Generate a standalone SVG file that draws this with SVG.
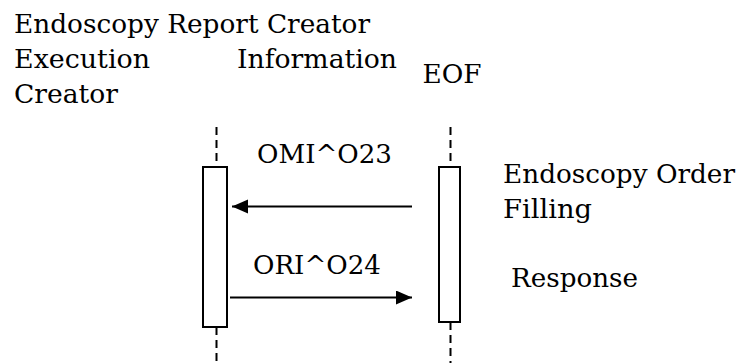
<svg xmlns="http://www.w3.org/2000/svg" width="741" height="363" viewBox="0 0 741 363">
  <style>
    text { font-family: "DejaVu Serif", "Liberation Serif", serif; font-size: 26px; fill: #000; }
    .life { stroke: #000; stroke-width: 2; stroke-dasharray: 8 5; fill: none; }
    .act { fill: #fff; stroke: #000; stroke-width: 2; }
    .msg { stroke: #000; stroke-width: 2.2; fill: none; }
  </style>
  <defs>
    <marker id="arrow" markerUnits="userSpaceOnUse" markerWidth="18" markerHeight="16" refX="16" refY="7" orient="auto">
      <path d="M0,0 L16,7 L0,14 Z" fill="#000"/>
    </marker>
  </defs>
  <g id="labels-top">
    <text x="14" y="33" textLength="356" lengthAdjust="spacingAndGlyphs">Endoscopy Report Creator</text>
  </g>
  <g id="node-execution-creator">
    <text x="14" y="68" textLength="136" lengthAdjust="spacingAndGlyphs">Execution</text>
    <text x="14" y="103" textLength="104" lengthAdjust="spacingAndGlyphs">Creator</text>
    <line class="life" x1="216.5" y1="127" x2="216.5" y2="167"/>
    <line class="life" x1="216.5" y1="327" x2="216.5" y2="363"/>
    <rect class="act" x="203" y="167" width="24" height="160"/>
  </g>
  <g id="node-information">
    <text x="237" y="68" textLength="160" lengthAdjust="spacingAndGlyphs">Information</text>
  </g>
  <g id="node-eof">
    <text x="422.5" y="83" textLength="59" lengthAdjust="spacingAndGlyphs">EOF</text>
    <line class="life" x1="450.5" y1="127" x2="450.5" y2="167"/>
    <line class="life" x1="450.5" y1="322" x2="450.5" y2="363"/>
    <rect class="act" x="439" y="167" width="21" height="155"/>
  </g>
  <g id="connectors">
    <line class="msg" x1="412" y1="206.5" x2="232" y2="206.5" marker-end="url(#arrow)"/>
    <line class="msg" x1="230" y1="297.5" x2="412" y2="297.5" marker-end="url(#arrow)"/>
  </g>
  <g id="message-labels">
    <text x="257" y="163" textLength="135" lengthAdjust="spacingAndGlyphs">OMI^O23</text>
    <text x="253" y="274" textLength="128" lengthAdjust="spacingAndGlyphs">ORI^O24</text>
    <text x="503" y="183" textLength="232" lengthAdjust="spacingAndGlyphs">Endoscopy Order</text>
    <text x="503" y="218" textLength="89" lengthAdjust="spacingAndGlyphs">Filling</text>
    <text x="511" y="287" textLength="127" lengthAdjust="spacingAndGlyphs">Response</text>
  </g>
</svg>
